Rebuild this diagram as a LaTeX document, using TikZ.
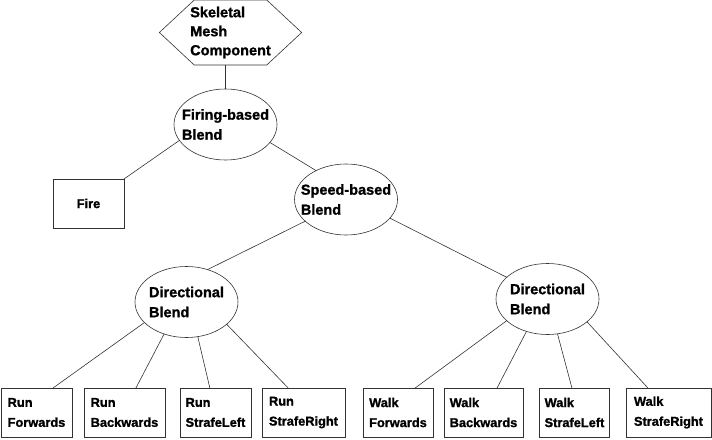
\documentclass[tikz,border=0pt]{standalone}
\usepackage{fontspec}
\setmainfont{Liberation Sans}[BoldFeatures={FakeBold=1.2}]
\usetikzlibrary{shapes.geometric,shapes.symbols}

\begin{document}
\begin{tikzpicture}[x=1pt,y=1pt,yscale=-1,xscale=1,
    every node/.style={align=left, outer sep=0pt},
    blend/.style={draw=black!80, line width=0.6pt, ellipse, minimum width=103pt, minimum height=71pt, inner xsep=-10pt, inner ysep=0pt, font=\bfseries\fontsize{14.5}{20}\selectfont},
    anim/.style={draw=black!80, line width=0.6pt, rectangle, minimum height=49pt, inner sep=0pt, font=\bfseries\fontsize{12.8}{20}\selectfont},
    link/.style={draw=black!80, line width=0.6pt}]
    \useasboundingbox (0,0) rectangle (712,439); %set diagram to 712 by 439

    %Shape: Hexagon [id:mesh]
    \node [draw=black!80, line width=0.6pt, signal, signal to=east and west, signal pointer angle=86, minimum height=65pt, inner xsep=-4pt, inner ysep=0pt, font=\bfseries\fontsize{14.5}{19}\selectfont] (mesh) at (230.5,32.5) {Skeletal\\Mesh\\Component};

    %Shape: Ellipse [id:blends]
    \node [blend] (firing) at (225.5,124.5) {Firing-based\\Blend};
    \node [blend] (speed) at (346,199.5) {Speed-based\\Blend};
    \node [blend] (dirrun) at (186.5,302) {Directional\\Blend};
    \node [blend] (dirwalk) at (547.5,299) {Directional\\Blend};

    %Shape: Rectangle [id:animations]
    \node [anim, minimum width=71pt] (fire) at (88.5,203.5) {Fire};
    \node [anim, minimum width=71pt] (runfwd) at (36.5,412.5) {Run\\Forwards};
    \node [anim, minimum width=81pt] (runback) at (124.5,412.5) {Run\\Backwards};
    \node [anim, minimum width=71pt] (runleft) at (215.5,412.5) {Run\\StrafeLeft};
    \node [anim, minimum width=83pt] (runright) at (303.5,412.5) {Run\\StrafeRight};
    \node [anim, minimum width=70pt] (walkfwd) at (398,412.5) {Walk\\Forwards};
    \node [anim, minimum width=79pt] (walkback) at (483.5,412.5) {Walk\\Backwards};
    \node [anim, minimum width=70pt] (walkleft) at (574.5,412.5) {Walk\\StrafeLeft};
    \node [anim, minimum width=85pt] (walkright) at (668.5,412.5) {Walk\\StrafeRight};

    %Straight Lines [id:links]
    \draw [link] (firing.north) -- (firing.north |- mesh.south);
    \draw [link] (firing.199) -- (fire.north east);
    \draw [link] (firing.338) -- (speed.136);
    \draw [link] (speed.208) -- (dirrun.57);
    \draw [link] (speed.337) -- (dirwalk.152);

    \draw [link] (dirrun.206) -- (runfwd.56);
    \draw [link] (dirrun.235) -- (runback.65);
    \draw [link] (dirrun.288) -- (runleft.103);
    \draw [link] (dirrun.331) -- (runright.122);

    \draw [link] (dirwalk.208) -- (walkfwd.55);
    \draw [link] (dirwalk.237) -- (walkback.61);
    \draw [link] (dirwalk.286) -- (walkleft.96);
    \draw [link] (dirwalk.330) -- (walkright.130);

\end{tikzpicture}
\end{document}
